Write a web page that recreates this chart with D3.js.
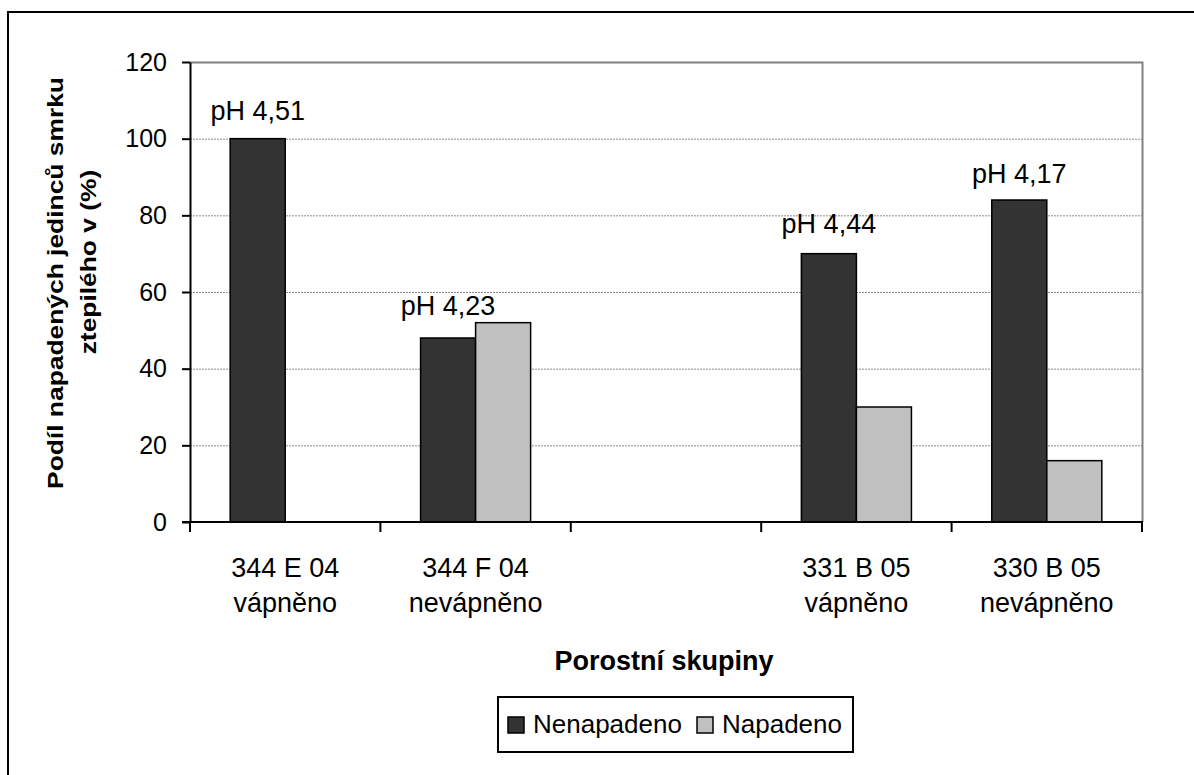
<!DOCTYPE html>
<html>
<head>
<meta charset="utf-8">
<script src="https://cdn.jsdelivr.net/npm/d3@7"></script>
<style>
  body { margin: 0; background: #fff; }
  text { font-family: Arial, "Liberation Sans", sans-serif; fill: #000; }
</style>
</head>
<body>
<svg id="chart" width="1194" height="775"></svg>
<script>
(function() {
  // data
  var categories = ["344 E 04", "344 F 04", "", "331 B 05", "330 B 05"];
  var subLabels = ["vápněno", "nevápněno", "", "vápněno", "nevápněno"];
  var series = ["Nenapadeno", "Napadeno"];
  var nenapadeno = [100, 48, null, 70, 84];
  var napadeno = [0, 52, null, 30, 16];
  var phLabels = ["pH 4,51", "pH 4,23", "", "pH 4,44", "pH 4,17"];
  var phLabelAt = [105, 54, null, 75.5, 88.5]; // label baseline, in % units
  var yTicks = [0, 20, 40, 60, 80, 100, 120];
  var colors = { "Nenapadeno": "#333333", "Napadeno": "#c0c0c0" };

  var svg = d3.select("#chart");

  // outer frame (runs off the right and bottom of the picture)
  svg.append("rect")
      .attr("x", 8).attr("y", 12)
      .attr("width", 1300).attr("height", 900)
      .attr("fill", "none").attr("stroke", "#000").attr("stroke-width", 2);

  var plot = { left: 190, top: 62, right: 1142, bottom: 522 };

  var x = d3.scaleBand()
      .domain(categories.map(function(d, i) { return i; }))
      .range([plot.left, plot.right])
      .padding(0);

  var xSub = d3.scaleBand()
      .domain(series)
      .range([0, x.bandwidth()])
      .paddingInner(0)
      .paddingOuter(0.73);

  var y = d3.scaleLinear()
      .domain([0, 120])
      .range([plot.bottom, plot.top]);

  // gridlines
  svg.append("g").selectAll("line")
      .data(yTicks.filter(function(t) { return t > 0 && t < 120; }))
    .enter().append("line")
      .attr("x1", plot.left).attr("x2", plot.right)
      .attr("y1", function(d) { return y(d) + 0.5; })
      .attr("y2", function(d) { return y(d) + 0.5; })
      .attr("stroke", "#8c8c8c").attr("stroke-width", 1)
      .attr("stroke-dasharray", "2,1");

  // plot frame top and right
  svg.append("path")
      .attr("d", "M" + plot.left + "," + (y(120) + 0.5) + "H" + (plot.right + 0.5) + "V" + plot.bottom)
      .attr("fill", "none").attr("stroke", "#808080").attr("stroke-width", 2);

  // bars
  var rows = categories.map(function(c, i) {
    return { i: i, values: [
      { key: "Nenapadeno", value: nenapadeno[i] },
      { key: "Napadeno", value: napadeno[i] }
    ] };
  });

  var groups = svg.append("g").selectAll("g")
      .data(rows)
    .enter().append("g")
      .attr("transform", function(d) { return "translate(" + x(d.i) + ",0)"; });

  groups.selectAll("rect")
      .data(function(d) { return d.values.filter(function(v) { return v.value; }); })
    .enter().append("rect")
      .attr("x", function(d) { return xSub(d.key); })
      .attr("width", xSub.bandwidth())
      .attr("y", function(d) { return y(d.value); })
      .attr("height", function(d) { return y(0) - y(d.value); })
      .attr("fill", function(d) { return colors[d.key]; })
      .attr("stroke", "#000").attr("stroke-width", 1.5);

  // pH labels over the dark bars
  svg.append("g").selectAll("text")
      .data(phLabels.map(function(t, i) { return { t: t, i: i }; }).filter(function(d) { return d.t; }))
    .enter().append("text")
      .attr("x", function(d) { return x(d.i) + xSub("Nenapadeno") + xSub.bandwidth() / 2; })
      .attr("y", function(d) { return y(phLabelAt[d.i]); })
      .attr("text-anchor", "middle")
      .style("font-size", "27px")
      .text(function(d) { return d.t; });

  // y axis
  var yAxis = svg.append("g")
      .attr("transform", "translate(" + plot.left + ",0)")
      .call(d3.axisLeft(y).tickValues(yTicks).tickSize(8).tickPadding(15).tickSizeOuter(0));
  yAxis.select(".domain").attr("stroke", "#000").attr("stroke-width", 2);
  yAxis.selectAll(".tick line").attr("stroke", "#000").attr("stroke-width", 2);
  yAxis.selectAll(".tick text")
      .style("font-size", "25px")
      .style("font-family", "Arial, 'Liberation Sans', sans-serif")
      .attr("fill", "#000");

  // x axis: ticks on band edges, labels at band centres
  var edges = categories.map(function(c, i) { return x(i); }).concat([plot.right]);
  var xAxis = svg.append("g");
  xAxis.append("line")
      .attr("x1", plot.left - 8).attr("x2", plot.right + 1)
      .attr("y1", plot.bottom).attr("y2", plot.bottom)
      .attr("stroke", "#000").attr("stroke-width", 2);
  xAxis.selectAll(".edge")
      .data(edges)
    .enter().append("line")
      .attr("class", "edge")
      .attr("x1", function(d) { return d; }).attr("x2", function(d) { return d; })
      .attr("y1", plot.bottom).attr("y2", plot.bottom + 10)
      .attr("stroke", "#000").attr("stroke-width", 2);

  var labels = xAxis.selectAll(".cat")
      .data(categories.map(function(c, i) { return { c: c, s: subLabels[i], i: i }; }).filter(function(d) { return d.c; }))
    .enter().append("text")
      .attr("class", "cat")
      .attr("text-anchor", "middle")
      .style("font-size", "27px");
  labels.append("tspan")
      .attr("x", function(d) { return x(d.i) + x.bandwidth() / 2; })
      .attr("y", 577)
      .text(function(d) { return d.c; });
  labels.append("tspan")
      .attr("x", function(d) { return x(d.i) + x.bandwidth() / 2; })
      .attr("y", 612)
      .text(function(d) { return d.s; });

  // axis titles
  svg.append("text")
      .attr("x", 664).attr("y", 670)
      .attr("text-anchor", "middle")
      .style("font-size", "27px").style("font-weight", "bold")
      .text("Porostní skupiny");

  svg.append("text")
      .attr("transform", "translate(63,283) rotate(-90) scale(1.2,1)")
      .attr("text-anchor", "middle")
      .style("font-size", "22px").style("font-weight", "bold")
      .text("Podíl napadených jedinců smrku");
  svg.append("text")
      .attr("transform", "translate(96,262) rotate(-90) scale(1.2,1)")
      .attr("text-anchor", "middle")
      .style("font-size", "22px").style("font-weight", "bold")
      .text("ztepilého v (%)");

  // legend
  var legend = svg.append("g");
  legend.append("rect")
      .attr("x", 498).attr("y", 697).attr("width", 355).attr("height", 55)
      .attr("fill", "#fff").attr("stroke", "#000").attr("stroke-width", 2);
  var legendX = [508, 697];
  var item = legend.selectAll(".item")
      .data(series)
    .enter().append("g")
      .attr("class", "item")
      .attr("transform", function(d, i) { return "translate(" + legendX[i] + ",717)"; });
  item.append("rect")
      .attr("width", 16).attr("height", 16)
      .attr("fill", function(d) { return colors[d]; })
      .attr("stroke", "#000").attr("stroke-width", 1.5);
  item.append("text")
      .attr("x", 25).attr("y", 16)
      .style("font-size", "26px")
      .text(function(d) { return d; });
})();
</script>
</body>
</html>
